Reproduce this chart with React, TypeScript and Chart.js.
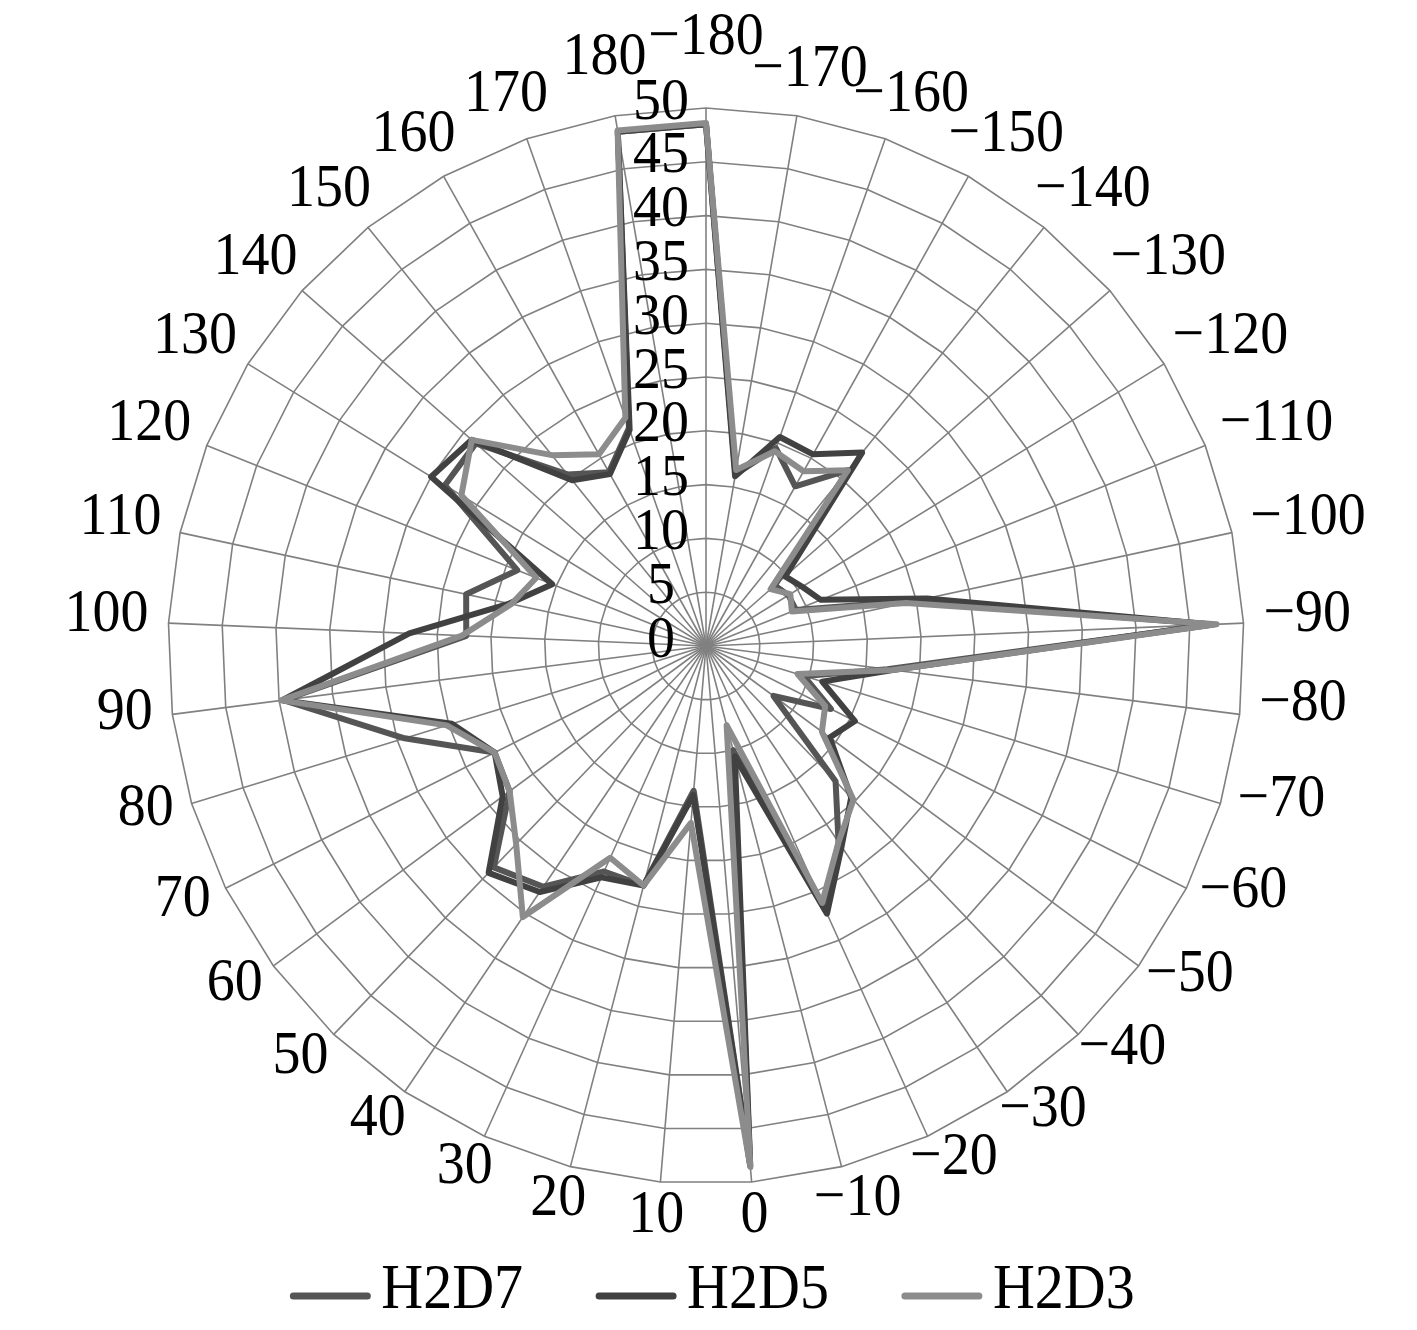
import React, { useEffect, useRef } from 'react';
import { Chart, registerables } from 'chart.js';

Chart.register(...registerables);

const categories = [
  '−180', '−170', '−160', '−150', '−140', '−130', '−120', '−110', '−100', '−90',
  '−80', '−70', '−60', '−50', '−40', '−30', '−20', '−10', '0',
  '10', '20', '30', '40', '50', '60', '70', '80', '90', '100',
  '110', '120', '130', '140', '150', '160', '170', '180',
];

const h2d7 = [
  48.5, 16.2, 19.5, 17.0, 21.0, 8.5, 9.0, 9.0, 20.0, 47.2,
  17.0, 9.5, 13.0, 7.8, 17.4, 22.0, 27.0, 10.0, 48.3,
  13.5, 23.0, 23.0, 27.0, 28.5, 22.7, 22.0, 29.3, 39.6, 22.3,
  22.8, 18.9, 28.5, 28.5, 20.5, 18.5, 21.5, 48.5,
];

const h2d5 = [
  48.5, 16.0, 20.6, 20.4, 23.1, 9.8, 10.5, 11.5, 21.0, 47.0,
  17.5, 11.3, 15.5, 14.3, 19.5, 22.5, 27.3, 10.6, 48.5,
  13.9, 23.0, 23.6, 27.6, 29.2, 23.5, 22.0, 24.7, 39.7, 27.6,
  18.7, 15.4, 30.0, 29.0, 19.8, 18.3, 21.3, 48.5,
];

const h2d3 = [
  48.6, 16.6, 19.2, 18.6, 21.0, 8.0, 9.2, 8.6, 19.0, 47.5,
  17.5, 8.9, 12.4, 13.4, 19.8, 22.0, 26.2, 7.6, 48.6,
  16.5, 23.0, 21.6, 30.4, 25.5, 22.7, 22.0, 25.2, 39.8, 22.7,
  18.5, 17.0, 26.7, 29.0, 22.8, 20.4, 22.5, 48.6,
];

const tickValues = [0, 5, 10, 15, 20, 25, 30, 35, 40, 45, 50];
const seriesNames = ['H2D7', 'H2D5', 'H2D3'];
const seriesColors = ['#555555', '#414141', '#8c8c8c'];

const FONT = '"Liberation Serif", "Times New Roman", serif';

function stretchedText(ctx: CanvasRenderingContext2D, text: string, x: number, y: number, sy: number) {
  ctx.save();
  ctx.translate(x, y);
  ctx.scale(1, sy);
  ctx.fillText(text, 0, 0);
  ctx.restore();
}

const textPlugin = {
  id: 'radarText',
  beforeDatasetsDraw(chart: any) {
    const scale = chart.scales.r;
    const ctx = chart.ctx as CanvasRenderingContext2D;
    ctx.save();
    ctx.fillStyle = '#000000';
    ctx.textAlign = 'center';
    ctx.textBaseline = 'middle';
    ctx.font = `56px ${FONT}`;
    // tick labels along the top spoke
    tickValues.forEach((v) => {
      const y = scale.yCenter - scale.getDistanceFromCenterForValue(v) - 5;
      stretchedText(ctx, String(v), scale.xCenter - 45, y, 1.06);
    });
    // point labels around the outer ring
    const R = scale.drawingArea;
    const g = 20;
    const h = 40;
    categories.forEach((lab, i) => {
      const p = scale.getPointPosition(i, R);
      const a = scale.getIndexAngle(i);
      const dx = Math.sin(a);
      const dy = -Math.cos(a);
      const w = ctx.measureText(lab).width;
      const cx = p.x + dx * (w / 2 + g);
      let cy = p.y + dy * (h / 2 + g) - 6;
      const deg = (a * 180) / Math.PI;
      if (deg < 5) cy -= 24;
      if (deg > 345) cy -= 12;
      if (dx > 0.3 && dy > 0) cy -= 9;
      stretchedText(ctx, lab, cx, cy, 1.08);
    });
    ctx.restore();
  },
  afterDraw(chart: any) {
    const ctx = chart.ctx as CanvasRenderingContext2D;
    ctx.save();
    ctx.font = `58px ${FONT}`;
    ctx.textBaseline = 'middle';
    ctx.textAlign = 'left';
    const sample = 82;
    const gap = 10;
    const itemGap = 72;
    const widths = seriesNames.map((n) => ctx.measureText(n).width);
    const total = widths.reduce((s, w) => s + sample + gap + w, 0) + itemGap * (seriesNames.length - 1);
    let x = 712 - total / 2;
    const y = 1291;
    seriesNames.forEach((n, i) => {
      ctx.strokeStyle = seriesColors[i];
      ctx.lineWidth = 7;
      ctx.lineCap = 'round';
      ctx.beginPath();
      ctx.moveTo(x + 4, y + 5);
      ctx.lineTo(x + sample - 4, y + 5);
      ctx.stroke();
      ctx.fillStyle = '#000000';
      stretchedText(ctx, n, x + sample + gap, y, 1.1);
      x += sample + gap + widths[i] + itemGap;
    });
    ctx.restore();
  },
};

export default function App() {
  const canvasRef = useRef<HTMLCanvasElement | null>(null);

  useEffect(() => {
    const canvas = canvasRef.current;
    if (!canvas) return;
    const series = [h2d7, h2d5, h2d3];
    const chart = new Chart(canvas, {
      type: 'radar',
      data: {
        labels: categories,
        datasets: series.map((d, i) => ({
          label: seriesNames[i],
          data: d,
          borderColor: seriesColors[i],
          backgroundColor: seriesColors[i],
          borderWidth: 6,
          pointRadius: 0,
          pointHoverRadius: 0,
          fill: false,
          tension: 0,
          borderJoinStyle: 'round' as const,
          order: 2 - i,
        })),
      },
      options: {
        responsive: false,
        maintainAspectRatio: false,
        animation: false,
        layout: { padding: { left: 168, right: 173, top: 0, bottom: 38 } },
        plugins: {
          legend: { display: false },
          tooltip: { enabled: false },
        },
        scales: {
          r: {
            min: 0,
            max: 50,
            startAngle: 0,
            ticks: { stepSize: 5, display: false },
            grid: { color: '#808080', lineWidth: 1.6 },
            angleLines: { color: '#808080', lineWidth: 1.6 },
            pointLabels: { display: false },
          },
        },
      },
      plugins: [textPlugin],
    });
    return () => chart.destroy();
  }, []);

  return (
    <div style={{ position: 'absolute', left: 0, top: 0, width: 1417, height: 1330, background: '#ffffff' }}>
      <canvas ref={canvasRef} width={1417} height={1330} style={{ display: 'block' }} />
    </div>
  );
}
